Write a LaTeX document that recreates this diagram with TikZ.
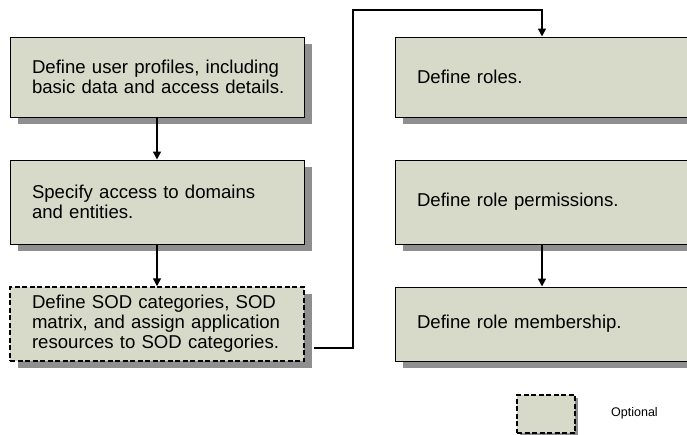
\documentclass[tikz,border=0pt]{standalone}
\usepackage{fontspec}
\setmainfont{Liberation Sans}
\usetikzlibrary{arrows.meta,shadows,calc}
\definecolor{boxfill}{RGB}{215,218,200}
\definecolor{shadowgray}{RGB}{143,143,143}
\newcommand{\myboxfont}{\fontsize{18.6}{20}\selectfont}
\tikzset{
  stepbox/.style={draw=black, line width=1pt, fill=boxfill, rectangle,
    minimum width=294pt, text width=250pt, align=left, inner sep=0pt,
    font=\myboxfont,
    drop shadow={shadow xshift=8pt, shadow yshift=-7pt, fill=shadowgray, opacity=1}},
  optbox/.style={dash pattern=on 5pt off 2.5pt, line width=1.5pt},
  arr/.style={draw=black, line width=1.5pt, -{Triangle[width=8pt,length=8pt]}}
}
\begin{document}
\begin{tikzpicture}[x=1pt,y=-1pt]
\useasboundingbox (0,0) rectangle (687,434);
% left column
\node[stepbox, minimum height=80pt] (b1) at (157,77) {\mbox{Define user profiles, including}\\\mbox{basic data and access details.}};
\node[stepbox, minimum height=84pt] (b2) at (157,202) {\mbox{Specify access to domains}\\\mbox{and entities.}};
\node[stepbox, optbox, minimum height=74pt] (b3) at (157,324) {\mbox{Define SOD categories, SOD}\\\mbox{matrix, and assign application}\\\mbox{resources to SOD categories.}};
% right column
\node[stepbox, minimum height=80pt] (b4) at (542,77) {Define roles.};
\node[stepbox, minimum height=84pt] (b5) at (542,202) {Define role permissions.};
\node[stepbox, minimum height=74pt] (b6) at (542,324) {Define role membership.};
% connectors
\draw[arr] (b1.south) -- (b2.north);
\draw[arr] (b2.south) -- (b3.north);
\draw[arr] (b5.south) -- (b6.north);
\coordinate (turn) at (353,10);
\draw[arr] ([xshift=9pt,yshift=-24pt]b3.east) -| (turn) -| (b4.north);
% legend
\node[draw=black, fill=boxfill, optbox, minimum width=58pt, minimum height=38pt, inner sep=0pt,
  drop shadow={shadow xshift=3pt, shadow yshift=-3pt, fill=shadowgray, opacity=1}] (leg) at (546,414) {};
\node[font=\fontsize{12.5}{14}\selectfont, anchor=west, inner sep=0pt] (legtext) at (611,413) {Optional};
\end{tikzpicture}
\end{document}
